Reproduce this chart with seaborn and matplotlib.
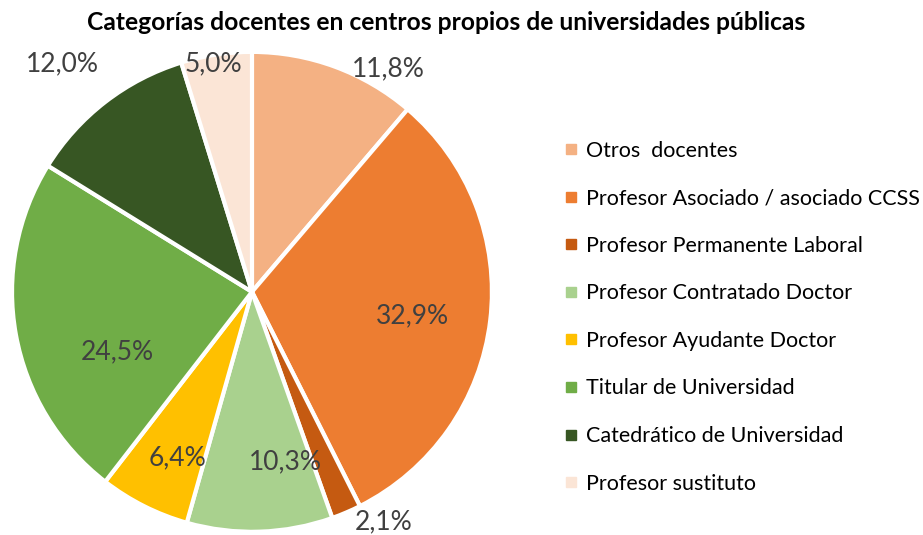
import matplotlib
matplotlib.use("Agg")
import numpy as np
import seaborn as sns
import matplotlib.pyplot as plt
from matplotlib.lines import Line2D

categorias = ['Otros  docentes', 'Profesor Asociado / asociado CCSS', 'Profesor Permanente Laboral',
              'Profesor Contratado Doctor', 'Profesor Ayudante Doctor', 'Titular de Universidad',
              'Catedrático de Universidad', 'Profesor sustituto']
porcentajes = [11.8, 32.9, 2.1, 10.3, 6.4, 24.5, 12.0, 5.0]
etiquetas = ['11,8%', '32,9%', '2,1%', '10,3%', '6,4%', '24,5%', '12,0%', '5,0%']
colores = ['#F4B183', '#ED7D31', '#C55A11', '#A9D18E', '#FFC000', '#70AD47', '#375623', '#FBE5D6']

# posiciones de las etiquetas (en radios, desde el centro)
pos_etiquetas = [(0.57, 0.93), (0.67, -0.10), (0.55, -0.96), (0.14, -0.71),
                 (-0.31, -0.69), (-0.56, -0.25), (-0.79, 0.95), (-0.16, 0.95)]

sns.set_theme(style="white")
plt.rcParams['font.family'] = ['Lato', 'DejaVu Sans']

fig = plt.figure(figsize=(9.23, 5.35), dpi=100)
ax = fig.add_axes([0.013, 0.006, 0.52, 0.897])

wedges, _ = ax.pie(porcentajes, colors=colores, startangle=90, counterclock=False,
                   radius=1, wedgeprops=dict(edgecolor='white', linewidth=3))
ax.set_xlim(-1.0, 1.0)
ax.set_ylim(-1.0, 1.0)
ax.set_aspect('equal')
ax.axis('off')

for txt, (x, y) in zip(etiquetas, pos_etiquetas):
    ax.text(x, y, txt, ha='center', va='center', fontsize=19, color='#404040')

fig.text(0.483, 0.958, 'Categorías docentes en centros propios de universidades públicas',
         ha='center', va='center', fontsize=17.7, fontweight='bold', color='black')

handles = [Line2D([0], [0], marker='s', linestyle='', markersize=7,
                  markerfacecolor=c, markeredgecolor=c) for c in colores]
fig.legend(handles, categorias, loc='upper left', bbox_to_anchor=(0.612, 0.737),
           frameon=False, fontsize=15.5, handlelength=0.6, handletextpad=0.4,
           labelspacing=1.28, borderpad=0, borderaxespad=0, labelcolor='#000000')

fig.savefig('out.png', dpi=100)
